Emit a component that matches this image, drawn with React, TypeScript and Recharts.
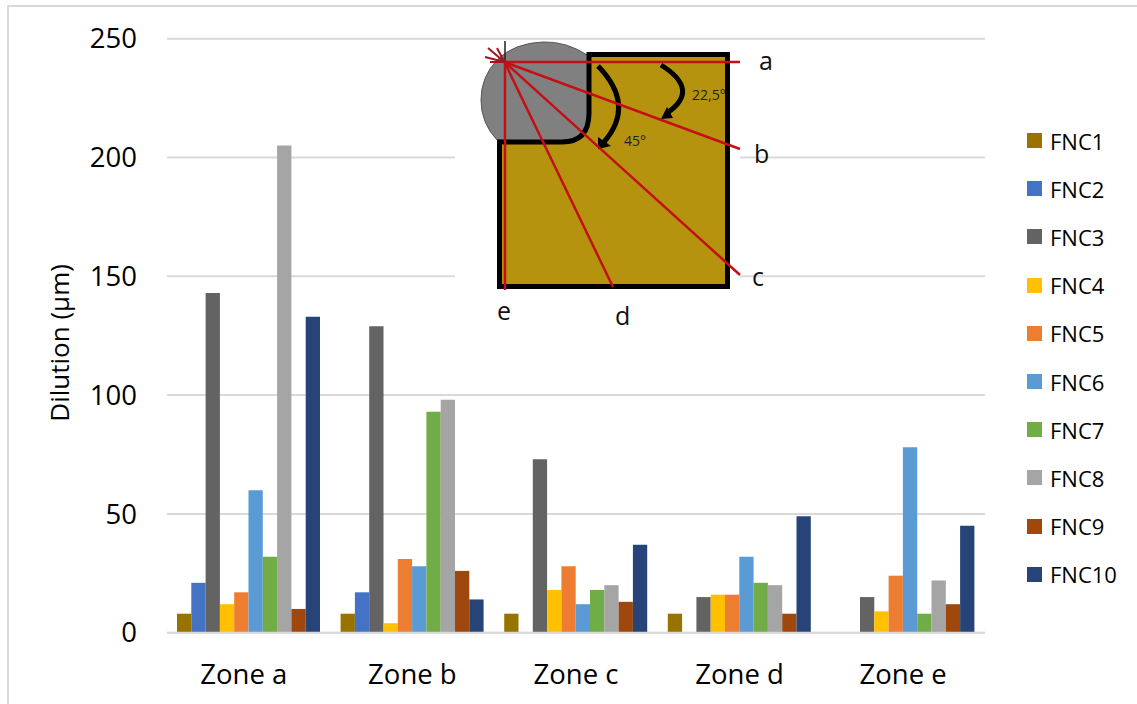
import { BarChart, Bar, XAxis, YAxis, CartesianGrid } from "recharts"

const zones = ["Zone a", "Zone b", "Zone c", "Zone d", "Zone e"]
const fnc1 = [8, 8, 8, 8, 0]
const fnc2 = [21, 17, 0, 0, 0]
const fnc3 = [143, 129, 73, 15, 15]
const fnc4 = [12, 4, 18, 16, 9]
const fnc5 = [17, 31, 28, 16, 24]
const fnc6 = [60, 28, 12, 32, 78]
const fnc7 = [32, 93, 18, 21, 8]
const fnc8 = [205, 98, 20, 20, 22]
const fnc9 = [10, 26, 13, 8, 12]
const fnc10 = [133, 14, 37, 49, 45]
const yTicks = [0, 50, 100, 150, 200, 250]

const seriesNames = ["FNC1", "FNC2", "FNC3", "FNC4", "FNC5", "FNC6", "FNC7", "FNC8", "FNC9", "FNC10"]
const seriesValues = [fnc1, fnc2, fnc3, fnc4, fnc5, fnc6, fnc7, fnc8, fnc9, fnc10]
const colors = ["#997300", "#4472c4", "#636363", "#ffc000", "#ed7d31", "#5b9bd5", "#70ad47", "#a5a5a5", "#9e480e", "#264478"]

const data = zones.map((zone, i) => {
  const row: Record<string, string | number> = { zone }
  seriesNames.forEach((name, s) => {
    row[name] = seriesValues[s][i]
  })
  return row
})

const FONT = "'Open Sans', sans-serif"

function FncLegend() {
  return (
    <div style={{ position: "absolute", left: 1027, top: 116.5, fontFamily: FONT, fontSize: 22, color: "#000" }}>
      {seriesNames.map((name, i) => (
        <div key={name} style={{ display: "flex", alignItems: "center", height: 48.2 }}>
          <span style={{ width: 15, height: 15, background: colors[i], marginRight: 8 }} />
          {name}
        </div>
      ))}
    </div>
  )
}

// first label sits a little left of its group in the original
function ZoneTick({ x, y, payload, index }: any) {
  return (
    <text x={index === 0 ? x - 5 : x} y={y} dy={19} textAnchor="middle" fontFamily={FONT} fontSize={27.5} fill="#000">
      {payload.value}
    </text>
  )
}

// schematic of the measuring zones, sits on top of the plot
function Inset() {
  return (
    <svg width={1137} height={704} style={{ position: "absolute", left: 0, top: 0 }}>
      <rect x={455} y={41} width={285} height={290} fill="#fff" />
      <path
        d="M589 56 Q566 41 543 42 Q514 43 497 60 Q481 77 481 100 Q481 123 497 140 L589 144 Z"
        fill="#808080"
        stroke="#555"
        strokeWidth={1}
      />
      <path d="M589 54.5 H727.5 V286.5 H499.5 V142 H562 Q589 142 589 113 Z" fill="#b5930f" stroke="#000" strokeWidth={5} />
      <path d="M598 66 Q636 105 604 142" fill="none" stroke="#000" strokeWidth={5} />
      <path d="M598 149 L598 137 L611 146 Z" fill="#000" />
      <path d="M661 65 Q701 90 667 113" fill="none" stroke="#000" strokeWidth={5} />
      <path d="M661 119 L667 107 L673 118 Z" fill="#000" />
      <text x={692} y={100} fontSize={14} fontFamily={FONT} fill="#222">22,5°</text>
      <text x={624} y={146} fontSize={14} fontFamily={FONT} fill="#222">45°</text>
      <line x1={505} y1={41} x2={505} y2={62} stroke="#222" strokeWidth={1.5} />
      <g stroke="#c40f14" strokeWidth={2.5} fill="none">
        <line x1={504.5} y1={62} x2={740} y2={62} />
        <line x1={504.5} y1={62} x2={740} y2={149} />
        <line x1={504.5} y1={62} x2={740} y2={275} />
        <line x1={504.5} y1={62} x2={613} y2={287} />
        <line x1={505} y1={62} x2={505} y2={290} />
      </g>
      <g stroke="#a3141c" strokeWidth={2} fill="none">
        <line x1={504.5} y1={62} x2={485} y2={57} />
        <line x1={504.5} y1={62} x2={488} y2={48} />
        <line x1={504.5} y1={62} x2={497} y2={48} />
        <line x1={504.5} y1={62} x2={490} y2={62} />
      </g>
      <g fontFamily={FONT} fontSize={25} fill="#111">
        <text x={759} y={70}>a</text>
        <text x={754} y={163}>b</text>
        <text x={752} y={286}>c</text>
        <text x={497} y={320}>e</text>
        <text x={615} y={325}>d</text>
      </g>
    </svg>
  )
}

export default function App() {
  return (
    <div style={{ position: "absolute", left: 0, top: 0, width: 1137, height: 704, overflow: "hidden" }}>
      <div style={{ position: "absolute", left: 7, top: 5, width: 1130, height: 699, borderLeft: "2px solid #d9d9d9", borderTop: "2px solid #d9d9d9", boxSizing: "border-box" }} />
      <BarChart
        width={1137}
        height={704}
        data={data}
        margin={{ top: 38.7, right: 152, bottom: 0, left: 0 }}
        barSize={14.3}
        barGap={0}
      >
        <CartesianGrid vertical={false} stroke="#d9d9d9" strokeWidth={2} />
        <XAxis
          dataKey="zone"
          height={71.3}
          axisLine={{ stroke: "#d9d9d9", strokeWidth: 2 }}
          tickLine={false}
          tick={ZoneTick}
          tickMargin={26}
        />
        <YAxis
          domain={[0, 250]}
          ticks={yTicks}
          width={167}
          axisLine={false}
          tickLine={false}
          tick={{ fontFamily: FONT, fontSize: 27.5, fill: "#000" }}
          tickMargin={24}
          label={{
            value: "Dilution (µm)",
            angle: -90,
            position: "insideLeft",
            offset: 60,
            dy: 86,
            style: { fontFamily: FONT, fontSize: 26, fill: "#000" },
          }}
        />
        {seriesNames.map((name, i) => (
          <Bar key={name} dataKey={name} fill={colors[i]} isAnimationActive={false} />
        ))}
      </BarChart>
      <FncLegend />
      <Inset />
    </div>
  )
}
